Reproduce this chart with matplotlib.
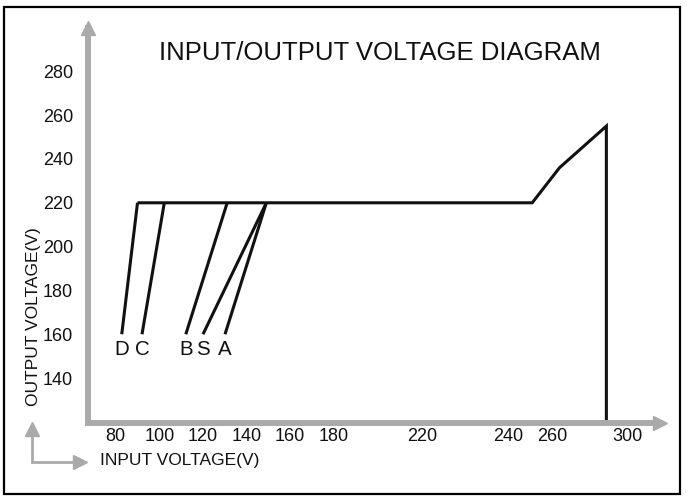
import numpy as np
import matplotlib
matplotlib.use("Agg")
import matplotlib.pyplot as plt
import matplotlib.transforms as mtransforms
from matplotlib.lines import Line2D
from matplotlib.patches import Rectangle

# --- data ---
curve_names = ["D", "C", "B", "S", "A"]
low_input = [83, 92, 112, 120, 130]      # input V where each curve starts (output 160 V)
cut_in = [90, 102, 131, 149, 149]        # input V where each curve reaches 220 V
low_output = 160
reg_output = 220

# regulated line after the cut-in, then over-voltage rise and cut-off
reg_input = [90, 251, 264, 289, 289]
reg_out = [220, 220, 236, 255, 120]

x_ticks = [80, 100, 120, 140, 160, 180, 220, 240, 260, 300]
y_ticks = [140, 160, 180, 200, 220, 240, 260, 280]

# the drawing's x axis is not evenly spaced: map volts to drawing position
scale_volts = [60, 80, 100, 120, 140, 160, 180, 220, 240, 260, 300, 340]
scale_pos = [71, 115, 160, 203, 247, 290, 334, 422, 508, 552, 627, 702]


def fwd(v):
    return np.interp(v, scale_volts, scale_pos)


def inv(p):
    return np.interp(p, scale_pos, scale_volts)


W, H = 688, 499
GRAY = "#aaaaaa"
INK = "#111111"

plt.rcParams["font.family"] = "Liberation Sans"

fig = plt.figure(figsize=(W / 100, H / 100), dpi=100)
ax = fig.add_axes([88 / W, 1 - 423 / H, (660 - 88) / W, (423 - 27.5) / H])
ax.set_xscale("function", functions=(fwd, inv))
ax.set_xlim(inv(88), inv(660))
ax.set_ylim(119.5, 300)

# curves D, C, B, S, A
for name, x0, x1 in zip(curve_names, low_input, cut_in):
    ax.plot([x0, x1], [low_output, reg_output], color=INK, lw=2.2,
            solid_capstyle="butt", clip_on=False)
    ax.annotate(name, xy=(x0, low_output), xytext=(0, -3.8),
                textcoords="offset points", ha="center", va="top",
                fontsize=14.8, color=INK)

ax.plot(reg_input, reg_out, color=INK, lw=2.2, solid_joinstyle="miter",
        solid_capstyle="butt")

# axes: gray lines with arrow heads
for side in ["top", "right"]:
    ax.spines[side].set_visible(False)
for side in ["left", "bottom"]:
    ax.spines[side].set_color(GRAY)
    ax.spines[side].set_linewidth(4.3)
ax.plot(1, 0, ">", color=GRAY, ms=10.5, transform=ax.transAxes, clip_on=False)
ax.plot(0, 1, "^", color=GRAY, ms=10.5, transform=ax.transAxes, clip_on=False)

tick_font = dict(family=["Liberation Sans Narrow", "Liberation Sans"], size=13)
ax.set_xticks(x_ticks)
ax.set_xticklabels([str(v) for v in x_ticks], fontdict=tick_font)
ax.set_yticks(y_ticks)
ax.set_yticklabels([str(v) for v in y_ticks], fontdict=tick_font)
ax.xaxis.set_minor_locator(plt.NullLocator())
ax.tick_params(axis="both", length=0, colors=INK)
ax.tick_params(axis="x", pad=3.6)
ax.tick_params(axis="y", pad=10.8)

ax.set_title("INPUT/OUTPUT VOLTAGE DIAGRAM", fontsize=18.5, color=INK,
             x=(380 - 88) / 572, y=(423 - 60) / 395.5, pad=0)

ax.set_xlabel("INPUT VOLTAGE(V)", fontsize=12.5, color=INK, loc="left")
ax.xaxis.set_label_coords((100 - 88) / 572, -(453 - 423) / 395.5)
ax.set_ylabel("OUTPUT VOLTAGE(V)", fontsize=12.5, color=INK)
ax.yaxis.set_label_coords((41 - 88) / 572, (423 - 317) / 395.5)

# small corner arrows and frame, in pixel coordinates (y down)
pix = mtransforms.Affine2D().scale(1 / W, -1 / H).translate(0, 1) + fig.transFigure
fig.add_artist(Line2D([32, 32, 80], [429, 462, 462], lw=2, color=GRAY,
                      transform=pix, solid_joinstyle="miter"))
fig.add_artist(Line2D([32], [429], marker="^", ms=10.5, color=GRAY,
                      transform=pix, lw=0))
fig.add_artist(Line2D([80], [462], marker=">", ms=10.5, color=GRAY,
                      transform=pix, lw=0))
fig.add_artist(Rectangle((4, 7), 676, 487, fill=False, lw=1.6,
                         edgecolor="black", transform=pix))

fig.savefig("out.png", dpi=100)
